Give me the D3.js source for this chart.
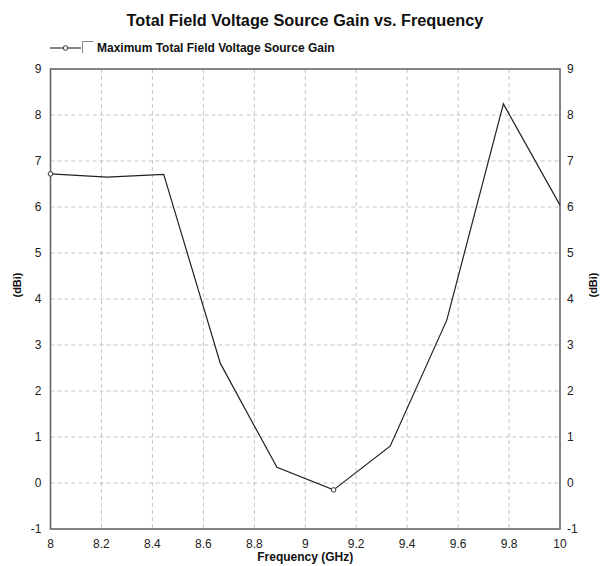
<!DOCTYPE html>
<html>
<head>
<meta charset="utf-8">
<script src="https://cdn.jsdelivr.net/npm/d3@7"></script>
<style>
  body { margin: 0; background: #fff; }
  svg { display: block; font-family: "Liberation Sans", Arial, sans-serif; }
</style>
</head>
<body>
<svg id="chart" width="602" height="566"></svg>
<script>
// Frequency sweep (GHz) and maximum gain (dBi)
const frequencies = [8, 8.2222, 8.4444, 8.6667, 8.8889, 9.1111, 9.3333, 9.5556, 9.7778, 10];
const gains = [6.72, 6.65, 6.71, 2.60, 0.34, -0.15, 0.80, 3.54, 8.24, 6.04];
const xTicks = [8, 8.2, 8.4, 8.6, 8.8, 9, 9.2, 9.4, 9.6, 9.8, 10];
const yTicks = [-1, 0, 1, 2, 3, 4, 5, 6, 7, 8, 9];
const markerIndices = [0, 5];

const titleText = "Total Field Voltage Source Gain vs. Frequency";
const legendText = "Maximum Total Field Voltage Source Gain";
const xLabel = "Frequency (GHz)";
const yLabel = "(dBi)";

const svg = d3.select("#chart");
const plotLeft = 50.5, plotRight = 560, plotTop = 69, plotBottom = 529;

const x = d3.scaleLinear().domain([8, 10]).range([plotLeft, plotRight]);
const y = d3.scaleLinear().domain([-1, 9]).range([plotBottom, plotTop]);

// grid
svg.append("g").selectAll("line").data(xTicks.slice(1, -1)).join("line")
  .attr("x1", d => x(d)).attr("x2", d => x(d))
  .attr("y1", plotTop).attr("y2", plotBottom)
  .attr("stroke", "#c4c4c4").attr("stroke-dasharray", "4,3");
svg.append("g").selectAll("line").data(yTicks.slice(1, -1)).join("line")
  .attr("x1", plotLeft).attr("x2", plotRight)
  .attr("y1", d => y(d)).attr("y2", d => y(d))
  .attr("stroke", "#c4c4c4").attr("stroke-dasharray", "4,3");

// frame
svg.append("rect").attr("x", plotLeft).attr("y", plotTop)
  .attr("width", plotRight - plotLeft).attr("height", plotBottom - plotTop)
  .attr("fill", "none").attr("stroke", "#666").attr("stroke-width", 1.6);

// tick labels
const tickFont = 12;
svg.append("g").selectAll("text").data(yTicks).join("text")
  .attr("x", plotLeft - 9).attr("y", d => y(d) + 4)
  .attr("text-anchor", "end").attr("font-size", tickFont).attr("fill", "#222")
  .text(d => d);
svg.append("g").selectAll("text").data(yTicks).join("text")
  .attr("x", plotRight + 7).attr("y", d => y(d) + 4)
  .attr("text-anchor", "start").attr("font-size", tickFont).attr("fill", "#222")
  .text(d => d);
svg.append("g").selectAll("text").data(xTicks).join("text")
  .attr("x", d => x(d)).attr("y", plotBottom + 19)
  .attr("text-anchor", "middle").attr("font-size", tickFont).attr("fill", "#222")
  .text(d => d);

// axis titles
svg.append("text").attr("x", (plotLeft + plotRight) / 2).attr("y", 561)
  .attr("text-anchor", "middle").attr("font-size", 12).attr("font-weight", "bold")
  .attr("fill", "#111").text(xLabel);
svg.append("text").attr("transform", "translate(21,285) rotate(-90)")
  .attr("text-anchor", "middle").attr("font-size", 11).attr("font-weight", "bold")
  .attr("fill", "#111").text(yLabel);
svg.append("text").attr("transform", "translate(597,285) rotate(-90)")
  .attr("text-anchor", "middle").attr("font-size", 11).attr("font-weight", "bold")
  .attr("fill", "#111").text(yLabel);

// title
svg.append("text").attr("x", 305).attr("y", 26)
  .attr("text-anchor", "middle").attr("font-size", 16.3).attr("font-weight", "bold")
  .attr("fill", "#111").text(titleText);

// legend
const lg = svg.append("g");
lg.append("line").attr("x1", 50).attr("x2", 81).attr("y1", 48).attr("y2", 48)
  .attr("stroke", "#333").attr("stroke-width", 1.2);
lg.append("circle").attr("cx", 65.5).attr("cy", 48).attr("r", 2.3)
  .attr("fill", "#fff").attr("stroke", "#333");
lg.append("path").attr("d", "M82.5,53.5 V41.5 H93.5")
  .attr("fill", "none").attr("stroke", "#888");
lg.append("text").attr("x", 97).attr("y", 52)
  .attr("font-size", 12).attr("font-weight", "bold").attr("fill", "#111")
  .text(legendText);

// data line
const pts = frequencies.map((f, i) => [f, gains[i]]);
svg.append("path").datum(pts)
  .attr("d", d3.line().x(d => x(d[0])).y(d => y(d[1])))
  .attr("fill", "none").attr("stroke", "#222").attr("stroke-width", 1.2);
svg.append("g").selectAll("circle").data(markerIndices.map(i => pts[i])).join("circle")
  .attr("cx", d => x(d[0])).attr("cy", d => y(d[1])).attr("r", 2.3)
  .attr("fill", "#fff").attr("stroke", "#333");
</script>
</body>
</html>
